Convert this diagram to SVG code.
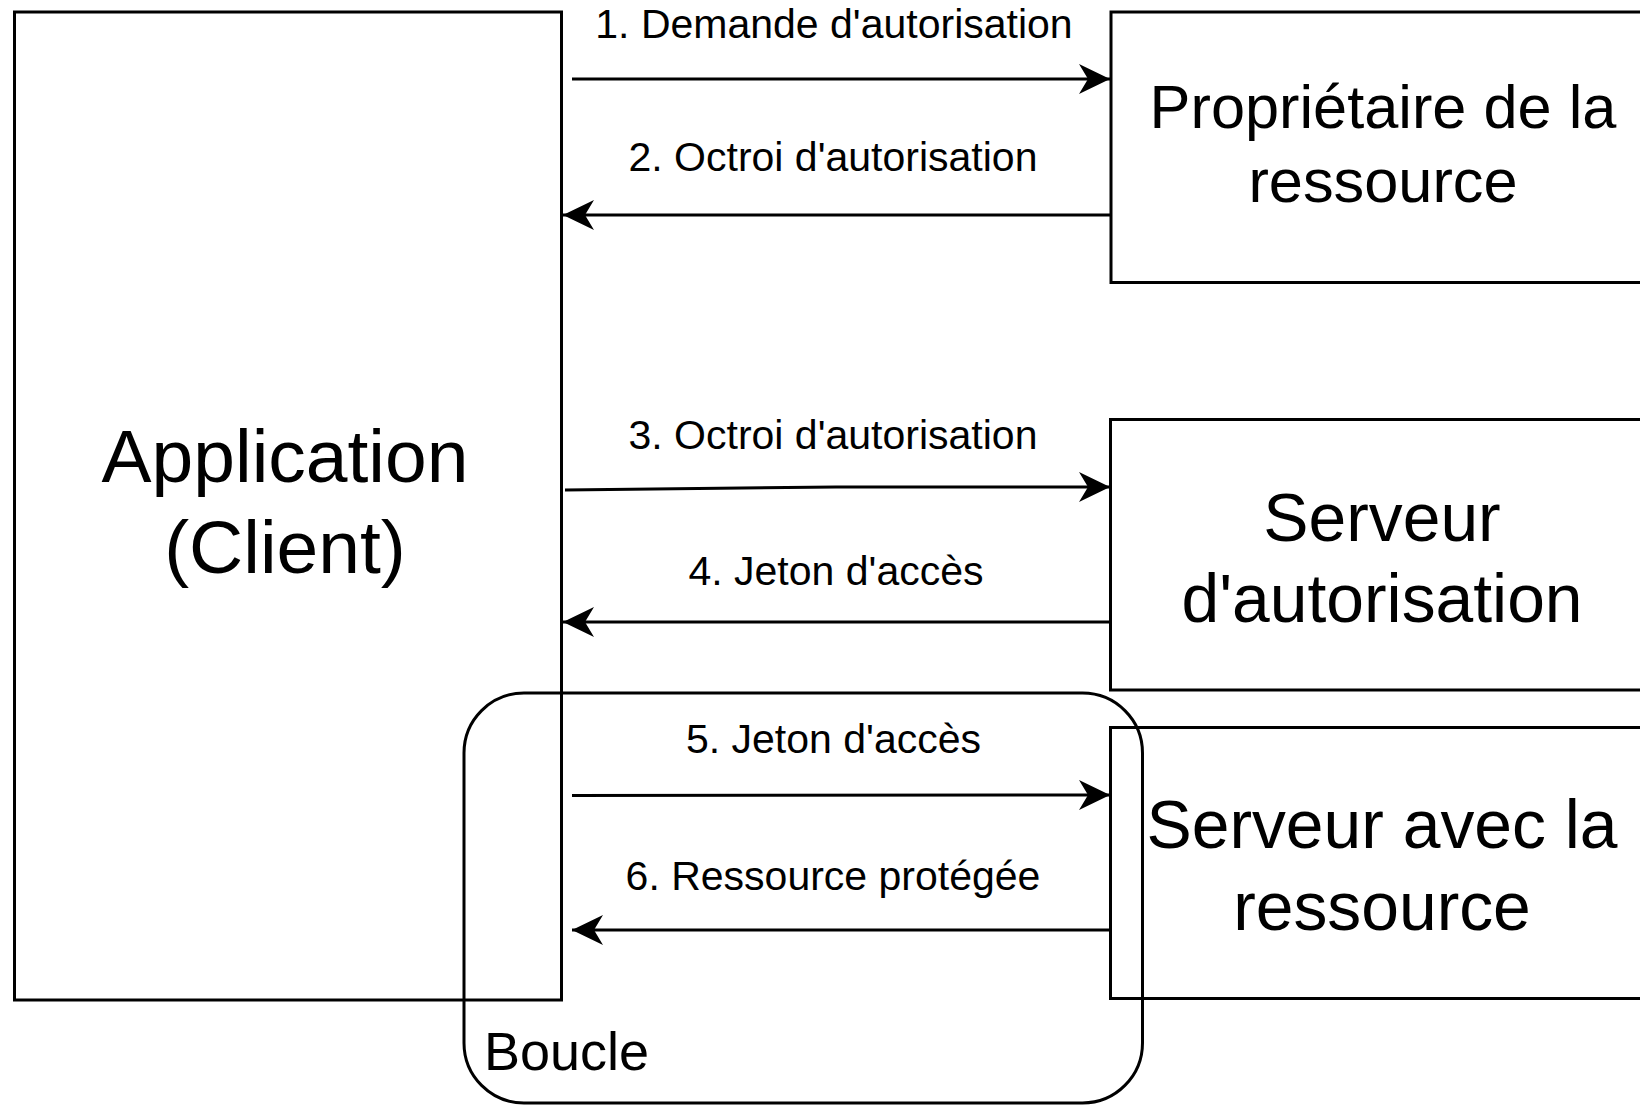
<svg xmlns="http://www.w3.org/2000/svg" width="1640" height="1105" viewBox="0 0 1640 1105">
  <style>
    .box { fill: none; stroke: #000; stroke-width: 3; }
    .conn { fill: none; stroke: #000; stroke-width: 3; marker-end: url(#arrow); }
    text { font-family: "Liberation Sans", Arial, sans-serif; fill: #000; }
    .lbl { font-size: 41px; text-anchor: middle; }
    .big { text-anchor: middle; }
  </style>
  <defs>
    <marker id="arrow" viewBox="0 0 31 30" refX="31" refY="15" markerWidth="31" markerHeight="30" markerUnits="userSpaceOnUse" orient="auto">
      <path d="M31,15 L0,0 L9,15 L0,30 Z" fill="#000"/>
    </marker>
  </defs>
  <rect width="1640" height="1105" fill="#fff"/>

  <g id="application">
    <rect class="box" x="14.5" y="12" width="547" height="988"/>
    <text class="big" x="285" y="481.5" font-size="75">Application</text>
    <text class="big" x="285" y="573" font-size="75">(Client)</text>
  </g>

  <g id="proprietaire">
    <rect class="box" x="1111" y="12" width="600" height="270.5"/>
    <text class="big" x="1383" y="127.5" font-size="61.3">Propriétaire de la</text>
    <text class="big" x="1383" y="201.5" font-size="61.3">ressource</text>
  </g>

  <g id="serveur-autorisation">
    <rect class="box" x="1110.5" y="419.5" width="600" height="270.5"/>
    <text class="big" x="1382" y="541" font-size="67.8">Serveur</text>
    <text class="big" x="1382" y="622" font-size="67.8">d'autorisation</text>
  </g>

  <g id="serveur-ressource">
    <rect class="box" x="1110.5" y="727.5" width="600" height="271"/>
    <text class="big" x="1382" y="847.5" font-size="67.8">Serveur avec la</text>
    <text class="big" x="1382" y="930" font-size="67.8">ressource</text>
  </g>

  <g id="boucle">
    <rect class="box" x="464" y="693" width="678.5" height="410" rx="60" ry="60"/>
    <text x="484" y="1070" font-size="54">Boucle</text>
  </g>

  <g id="connectors">
    <path class="conn" d="M572,79 L1110,79"/>
    <path class="conn" d="M1110,215 L563,215"/>
    <path class="conn" d="M565,490 L836,487 L1110,487"/>
    <path class="conn" d="M1110,622 L563,622"/>
    <path class="conn" d="M572,795.5 L1110,795"/>
    <path class="conn" d="M1110,930 L572,930"/>
    <text class="lbl" x="834" y="38">1. Demande d'autorisation</text>
    <text class="lbl" x="833" y="171">2. Octroi d'autorisation</text>
    <text class="lbl" x="833" y="448.5">3. Octroi d'autorisation</text>
    <text class="lbl" x="836" y="585">4. Jeton d'accès</text>
    <text class="lbl" x="833.5" y="753">5. Jeton d'accès</text>
    <text class="lbl" x="833" y="889.5">6. Ressource protégée</text>
  </g>
</svg>
